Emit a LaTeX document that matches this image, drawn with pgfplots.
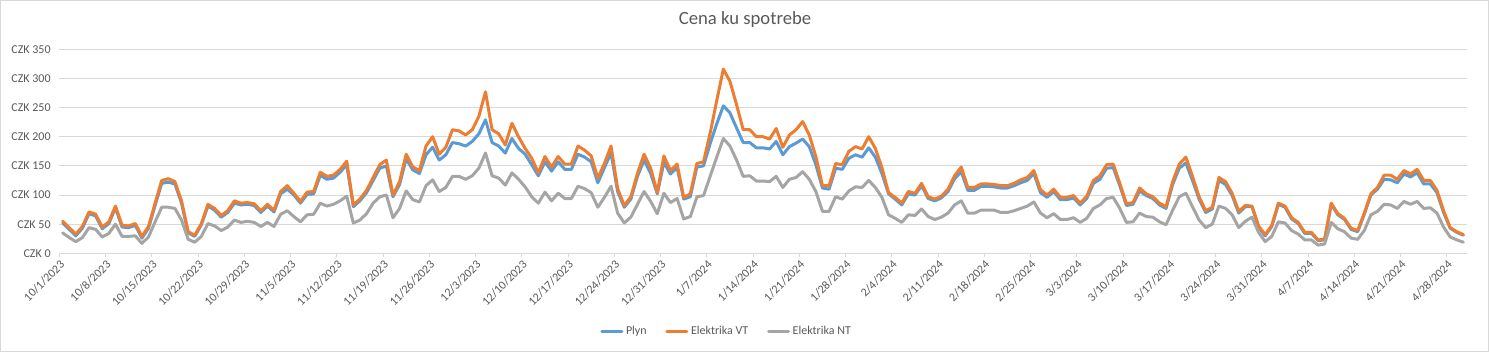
\documentclass[border=0pt]{standalone}
\usepackage{fontspec}
\setmainfont{Carlito}
\usepackage{pgfplots}
\usepackage{pgfplotstable}
\pgfplotsset{compat=1.18}
\definecolor{cblue}{HTML}{5B9BD5}
\definecolor{corange}{HTML}{ED7D31}
\definecolor{cgray}{HTML}{A5A5A5}
\definecolor{ctext}{HTML}{595959}
\definecolor{cgrid}{HTML}{D9D9D9}
\pgfplotstableread{
d p vt nt
0 52 55 35
1 41 44 27
2 30 33 20
3 43 46 27
4 68 71 44
5 64 67 41
6 42 45 28
7 51 54 34
8 78 81 50
9 45 48 29
10 44 47 29
11 48 51 30
12 26 29 17
13 43 46 28
14 82 86 54
15 120 125 79
16 122 128 79
17 119 123 77
18 86 90 57
19 35 37 24
20 29 31 19
21 49 51 29
22 81 84 51
23 74 77 47
24 62 65 39
25 70 73 45
26 86 90 57
27 83 86 53
28 84 87 55
29 82 85 53
30 70 73 46
31 81 84 53
32 71 74 46
33 102 106 67
34 110 116 73
35 100 103 63
36 86 89 54
37 101 105 66
38 102 106 67
39 134 139 86
40 127 132 81
41 129 134 84
42 139 144 90
43 152 158 98
44 80 83 52
45 90 93 57
46 104 108 68
47 125 130 86
48 146 152 97
49 150 160 100
50 97 100 61
51 118 123 77
52 162 170 107
53 143 148 92
54 137 142 88
55 169 184 116
56 182 200 126
57 160 170 106
58 169 182 113
59 190 212 132
60 188 210 132
61 184 203 127
62 192 212 133
63 205 235 146
64 229 277 172
65 190 212 133
66 184 205 129
67 172 186 117
68 197 223 138
69 180 200 127
70 170 180 114
71 152 163 97
72 133 138 86
73 157 166 105
74 141 148 90
75 157 166 103
76 144 153 94
77 144 153 94
78 170 184 115
79 165 177 111
80 157 167 104
81 121 129 79
82 147 154 96
83 172 184 115
84 106 111 69
85 79 82 52
86 93 97 62
87 132 137 84
88 160 170 106
89 137 146 89
90 102 104 68
91 156 167 103
92 136 142 87
93 147 153 94
94 93 96 59
95 97 102 63
96 148 154 97
97 150 157 99
98 188 206 132
99 222 262 165
100 253 316 197
101 241 295 184
102 215 255 160
103 190 212 132
104 190 212 133
105 181 200 124
106 181 200 124
107 179 196 123
108 192 214 132
109 169 182 113
110 183 203 127
111 189 212 130
112 196 226 140
113 183 203 127
114 152 166 106
115 112 116 72
116 110 116 72
117 146 154 97
118 144 152 93
119 163 175 107
120 169 183 114
121 165 179 113
122 181 200 125
123 165 180 113
124 137 147 96
125 102 104 66
126 93 96 60
127 83 86 53
128 102 106 66
129 100 103 65
130 116 120 76
131 94 97 63
132 90 93 58
133 95 98 62
134 106 110 69
135 128 133 83
136 140 148 90
137 108 113 69
138 108 113 69
139 115 119 74
140 115 119 74
141 114 118 74
142 112 116 70
143 112 116 70
144 116 120 73
145 121 126 77
146 125 130 81
147 137 142 88
148 104 109 69
149 96 100 61
150 106 110 68
151 92 96 58
152 92 96 58
153 95 99 61
154 83 86 53
155 94 98 60
156 120 125 77
157 127 133 83
158 146 152 94
159 147 153 96
160 116 120 77
161 82 85 53
162 84 87 54
163 107 112 69
164 99 102 63
165 94 97 62
166 83 86 54
167 77 80 49
168 118 123 74
169 146 153 97
170 155 165 103
171 125 132 80
172 93 97 57
173 70 73 44
174 76 79 50
175 125 130 81
176 118 123 77
177 99 103 66
178 69 72 44
179 80 82 55
180 80 81 62
181 45 47 36
182 30 32 20
183 46 48 29
184 84 86 54
185 79 81 52
186 59 61 39
187 51 53 33
188 34 36 23
189 34 36 23
190 22 23 14
191 23 24 16
192 84 86 53
193 66 68 42
194 58 60 37
195 41 43 26
196 37 39 24
197 67 69 39
198 100 102 66
199 110 113 72
200 127 134 84
201 126 134 83
202 121 127 77
203 136 142 89
204 131 136 84
205 138 144 89
206 119 125 77
207 119 125 78
208 104 108 69
209 70 73 45
210 43 44 28
211 36 37 23
212 31 32 19
}\data
\begin{document}
\begin{tikzpicture}
\useasboundingbox (0,0) rectangle (1116.75pt,264pt);
\draw[cgrid, line width=0.75pt] (0.375pt,0.375pt) rectangle (1116.375pt,263.625pt);
\node[text=ctext, font=\fontsize{14}{17}\selectfont] at (558.75pt,249pt) {Cena ku spotrebe};
\begin{axis}[
  at={(44.475pt,74.025pt)}, anchor=south west,
  scale only axis, width=1055.55pt, height=153pt,
  xmin=-0.5, xmax=212.5, ymin=0, ymax=350,
  ytick={0,50,...,350},
  /pgf/number format/assume math mode=true,
  yticklabel={CZK \pgfmathprintnumber{\tick}},
  yticklabel style={font=\fontsize{9}{11}\selectfont, text=ctext, xshift=-3pt},
  xtick={-0.5,6.5,...,209.5},
  xticklabels={10/1/2023,10/8/2023,10/15/2023,10/22/2023,10/29/2023,11/5/2023,11/12/2023,11/19/2023,11/26/2023,12/3/2023,12/10/2023,12/17/2023,12/24/2023,12/31/2023,1/7/2024,1/14/2024,1/21/2024,1/28/2024,2/4/2024,2/11/2024,2/18/2024,2/25/2024,3/3/2024,3/10/2024,3/17/2024,3/24/2024,3/31/2024,4/7/2024,4/14/2024,4/21/2024,4/28/2024},
  xticklabel style={font=\fontsize{9}{11}\selectfont, text=ctext, rotate=45, anchor=north east, inner sep=1pt},
  axis line style={draw=none},
  xtick pos=bottom, xtick align=outside, major tick length=3pt,
  xtick style={draw=cgrid, line width=0.75pt},
  ytick style={draw=none},
  ymajorgrids, grid style={draw=cgrid, line width=0.75pt},
  legend style={at={(0.4744,-0.381)}, anchor=center, draw=none, fill=none, legend columns=-1,
    font=\fontsize{9}{11}\selectfont, text=ctext,
    /tikz/every even column/.append style={column sep=12pt}},
  legend image code/.code={\draw[#1] (0pt,0pt) -- (15pt,0pt);},
]
\addplot[cblue, line width=2.25pt, line join=round, line cap=round] table[x=d,y=p]{\data};
\addplot[corange, line width=2.25pt, line join=round, line cap=round] table[x=d,y=vt]{\data};
\addplot[cgray, line width=2.25pt, line join=round, line cap=round] table[x=d,y=nt]{\data};
\legend{Plyn, Elektrika VT, Elektrika NT}
\end{axis}
\end{tikzpicture}
\end{document}
